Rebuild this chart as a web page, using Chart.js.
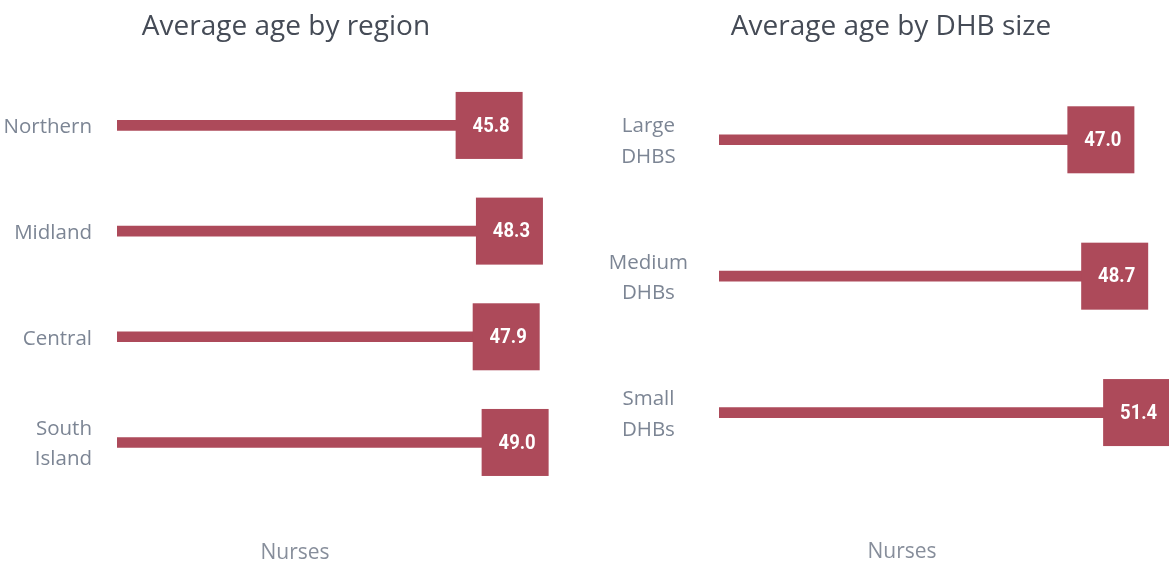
<!DOCTYPE html>
<html>
<head>
<meta charset="utf-8">
<script src="https://cdn.jsdelivr.net/npm/chart.js@4/dist/chart.umd.min.js"></script>
<style>
  html, body { margin: 0; padding: 0; background: #ffffff; overflow: hidden; width: 1169px; height: 562px; }
  .panel { position: absolute; top: 0; height: 562px; }
  #leftPanel { left: 0; width: 583px; }
  #rightPanel { left: 608px; width: 576px; }
</style>
</head>
<body>
<div class="panel" id="leftPanel"><canvas id="regionChart" width="583" height="562"></canvas></div>
<div class="panel" id="rightPanel"><canvas id="sizeChart" width="576" height="562"></canvas></div>
<script>
// Average age of nurses, by region and by DHB size
const regionCategories = ['Northern', 'Midland', 'Central', 'South Island'];
const regionAges = [45.8, 48.3, 47.9, 49.0];

const sizeCategories = ['Large DHBS', 'Medium DHBs', 'Small DHBs'];
const sizeAges = [47.0, 48.7, 51.4];

const regionTitle = 'Average age by region';
const sizeTitle = 'Average age by DHB size';
const workforceLabel = 'Nurses';

const ageAxisMin = 0;
const ageAxisMax = 56;

const BAR_COLOR = '#ad4a5a';
const TITLE_COLOR = '#454b56';
const LABEL_COLOR = '#7c8594';
const FOOT_COLOR = '#878e9b';
const FONT = '"Open Sans", "Noto Sans", sans-serif';

// Square value badge drawn at the end of every bar
const valueBoxes = {
  id: 'valueBoxes',
  afterDatasetsDraw(chart, args, opts) {
    const ctx = chart.ctx;
    const meta = chart.getDatasetMeta(0);
    const values = chart.data.datasets[0].data;
    meta.data.forEach((bar, i) => {
      const { x, y } = bar.getProps(['x', 'y'], true);
      const s = opts.size;
      ctx.save();
      ctx.fillStyle = opts.color;
      ctx.fillRect(x - s / 2, y - s / 2, s, s);
      ctx.translate(x + 2, y + 1);
      ctx.scale(0.88, 1);
      ctx.fillStyle = '#ffffff';
      ctx.font = opts.font;
      ctx.textAlign = 'center';
      ctx.textBaseline = 'middle';
      ctx.fillText(values[i].toFixed(1), 0, 0);
      ctx.restore();
    });
  }
};

// Workforce caption under each panel
const footCaption = {
  id: 'footCaption',
  afterDraw(chart, args, opts) {
    const ctx = chart.ctx;
    ctx.save();
    ctx.fillStyle = opts.color;
    ctx.font = opts.font;
    ctx.textAlign = 'center';
    ctx.textBaseline = 'middle';
    ctx.fillText(opts.text, chart.width / 2 + opts.dx, opts.y);
    ctx.restore();
  }
};

function makeChart(canvasId, categories, values, cfg) {
  return new Chart(document.getElementById(canvasId), {
    type: 'bar',
    data: {
      labels: categories.map(c => c.split(' ')),
      datasets: [{
        data: values,
        backgroundColor: BAR_COLOR,
        borderWidth: 0,
        barThickness: 10
      }]
    },
    plugins: [valueBoxes, footCaption],
    options: {
      indexAxis: 'y',
      responsive: false,
      devicePixelRatio: 1,
      animation: false,
      layout: { padding: { left: 0, right: cfg.padRight, top: 0, bottom: cfg.padBottom } },
      scales: {
        x: {
          display: false,
          min: ageAxisMin,
          max: ageAxisMax
        },
        y: {
          afterFit(scale) { scale.width = cfg.axisWidth; },
          grid: { display: false, drawTicks: false },
          border: { display: false },
          ticks: {
            color: LABEL_COLOR,
            font: { family: FONT, size: 20.5, lineHeight: 1.48 },
            padding: cfg.tickPadding,
            crossAlign: cfg.crossAlign,
            labelOffset: 2,
            autoSkip: false
          }
        }
      },
      plugins: {
        legend: { display: false },
        tooltip: { enabled: false },
        title: {
          display: true,
          text: cfg.title,
          color: TITLE_COLOR,
          font: { family: FONT, size: 28, weight: 'normal' },
          padding: { top: 10, bottom: cfg.titleGap }
        },
        footCaption: {
          text: workforceLabel,
          color: FOOT_COLOR,
          font: '21px ' + FONT,
          dx: cfg.footDx,
          y: cfg.footY
        },
        valueBoxes: {
          size: 67,
          color: BAR_COLOR,
          font: 'bold 21px "Liberation Sans Narrow", "Arial Narrow", Roboto, sans-serif'
        }
      }
    }
  });
}

makeChart('regionChart', regionCategories, regionAges, {
  title: regionTitle,
  axisWidth: 117,
  padRight: 11,
  padBottom: 66.7,
  tickPadding: 25,
  crossAlign: 'near',
  titleGap: 29,
  footDx: 3.5,
  footY: 553.5
});

makeChart('sizeChart', sizeCategories, sizeAges, {
  title: sizeTitle,
  axisWidth: 111,
  padRight: 10,
  padBottom: 81.25,
  tickPadding: 31,
  crossAlign: 'center',
  titleGap: 28,
  footDx: 6,
  footY: 552
});
</script>
</body>
</html>
